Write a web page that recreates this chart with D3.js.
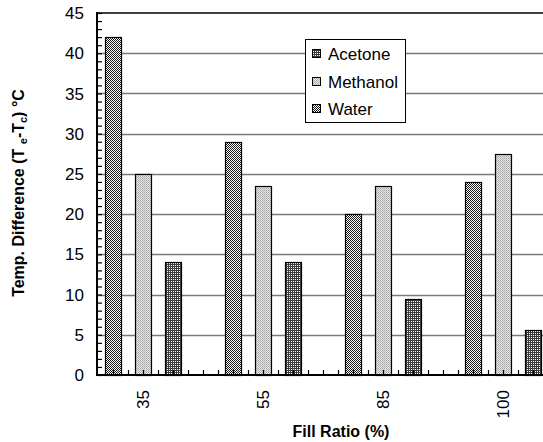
<!DOCTYPE html>
<html><head><meta charset="utf-8">
<script src="https://cdn.jsdelivr.net/npm/d3@7"></script>
<style>
body{margin:0;background:#fff}
svg{display:block}
text{font-family:"Liberation Sans",Arial,sans-serif;fill:#000}
</style>
</head><body>
<svg id="c" width="543" height="442"></svg>
<script>
// ---- data ----
const categories = ["35", "55", "85", "100"];
const seriesNames = ["Acetone", "Methanol", "Water"];
const acetone  = [42, 29, 20, 24];
const methanol = [25, 23.5, 23.5, 27.5];
const water    = [14, 14, 9.5, 5.6];
const yTickValues = [0, 5, 10, 15, 20, 25, 30, 35, 40, 45];
const xTitle = "Fill Ratio (%)";

const seriesValues = [acetone, methanol, water];
const barPatterns = ["pCheck", "pLight", "pGrid"];
const legendPatterns = ["pGrid", "pLight", "pCheck"];

const W = 543, H = 442;
const plot = {left: 97, top: 13, right: 543, bottom: 375};

const svg = d3.select("#c");
const defs = svg.append("defs");

function pattern(id, size, bg, cells) {
  const p = defs.append("pattern").attr("id", id).attr("patternUnits", "userSpaceOnUse")
    .attr("width", size).attr("height", size);
  p.append("rect").attr("width", size).attr("height", size).attr("fill", bg);
  cells.forEach(c => p.append("rect").attr("x", c[0]).attr("y", c[1])
    .attr("width", c[2] || 1).attr("height", c[3] || 1).attr("fill", c[4]));
}
pattern("pCheck", 2, "#ffffff", [[0,0,1,1,"#1a1a1a"],[1,1,1,1,"#1a1a1a"]]);
pattern("pLight", 2, "#e6e6e6", [[0,0,1,1,"#a6a6a6"],[1,1,1,1,"#b8b8b8"]]);
pattern("pGrid", 2, "#ffffff", [[0,0,2,1,"#3a3a3a"],[0,1,1,1,"#3a3a3a"]]);

const y = d3.scaleLinear().domain([0, 45]).range([plot.bottom, plot.top]);
const x = d3.scaleBand().domain(categories).range([82.5, 562.5]).padding(0);
const xs = d3.scaleBand().domain(seriesNames).range([-45, 45]).padding(0);
const barW = 16;

// gridlines
svg.append("g").selectAll("line").data(yTickValues.filter(v => v > 0 && v < 45)).join("line")
  .attr("x1", plot.left).attr("x2", W)
  .attr("y1", d => Math.round(y(d)) + 0.5).attr("y2", d => Math.round(y(d)) + 0.5)
  .attr("stroke", "#7a7a7a").attr("stroke-width", 1.5);
// top frame
svg.append("line").attr("x1", plot.left).attr("x2", W)
  .attr("y1", y(45)).attr("y2", y(45)).attr("stroke", "#000").attr("stroke-width", 1.5);

// bars
const bars = [];
categories.forEach((c, i) => seriesNames.forEach((s, j) => bars.push({c, s, j, v: seriesValues[j][i]})));
svg.append("g").selectAll("rect").data(bars).join("rect")
  .attr("x", d => Math.round(x(d.c) + x.bandwidth() / 2 + xs(d.s) + xs.bandwidth() / 2 - barW / 2) + 0.5)
  .attr("y", d => Math.round(y(d.v)) + 0.5)
  .attr("width", barW)
  .attr("height", d => Math.round(y(0)) - Math.round(y(d.v)))
  .attr("fill", d => `url(#${barPatterns[d.j]})`)
  .attr("stroke", "#000").attr("stroke-width", 1.2);

// y axis
const yAxis = d3.axisRight(y).tickValues(d3.range(0, 46, 1)).tickSize(5).tickFormat("");
const gy = svg.append("g").attr("transform", `translate(${plot.left},0)`).call(yAxis);
gy.select(".domain").remove();
gy.selectAll(".tick line").attr("stroke", "#000").attr("stroke-width", 1.2);
svg.append("g").selectAll("text").data(yTickValues).join("text")
  .attr("x", 84).attr("y", d => y(d)).attr("dy", "0.36em")
  .attr("text-anchor", "end").attr("font-size", 17).text(d => d);
svg.append("line").attr("x1", plot.left).attr("x2", plot.left)
  .attr("y1", plot.top - 1).attr("y2", plot.bottom + 1).attr("stroke", "#000").attr("stroke-width", 2);

// x axis minor ticks (every 1/8 of a category)
const xLin = d3.scaleLinear().domain([0, categories.length]).range(x.range());
const xMinor = d3.range(0, categories.length * 8 + 1).map(k => k / 8)
  .filter(t => xLin(t) > plot.left + 2 && xLin(t) < W);
svg.append("g").selectAll("line").data(xMinor).join("line")
  .attr("x1", d => Math.round(xLin(d)) + 0.5).attr("x2", d => Math.round(xLin(d)) + 0.5)
  .attr("y1", plot.bottom).attr("y2", plot.bottom - 5)
  .attr("stroke", "#000").attr("stroke-width", 1.2);
svg.append("line").attr("x1", plot.left - 1).attr("x2", W)
  .attr("y1", plot.bottom).attr("y2", plot.bottom).attr("stroke", "#000").attr("stroke-width", 2);

// x tick labels
svg.append("g").selectAll("text").data(categories).join("text")
  .attr("transform", d => `translate(${x(d) + x.bandwidth() / 2},390) rotate(-90)`)
  .attr("dy", "0.36em").attr("text-anchor", "end").attr("font-size", 17).text(d => d);

// axis titles
svg.append("text").attr("x", 341).attr("y", 437).attr("text-anchor", "middle")
  .attr("font-size", 16).attr("font-weight", "bold").text(xTitle);
const yt = svg.append("text").attr("transform", "translate(24,193) rotate(-90)")
  .attr("text-anchor", "middle").attr("font-size", 16).attr("font-weight", "bold");
yt.append("tspan").text("Temp. Difference (T ");
yt.append("tspan").attr("font-size", 11).attr("dy", 3).text("e");
yt.append("tspan").attr("dy", -3).text("-T");
yt.append("tspan").attr("font-size", 11).attr("dy", 3).text("c");
yt.append("tspan").attr("dy", -3).text(") °C");

// legend
const lg = svg.append("g");
lg.append("rect").attr("x", 305.5).attr("y", 39.5).attr("width", 100).attr("height", 83)
  .attr("fill", "#fff").attr("stroke", "#000").attr("stroke-width", 1);
const ly = d3.scalePoint().domain(seriesNames).range([54, 109]);
seriesNames.forEach((s, j) => {
  lg.append("rect").attr("x", 312.5).attr("y", Math.round(ly(s)) - 4.5).attr("width", 8).attr("height", 8)
    .attr("fill", `url(#${legendPatterns[j]})`).attr("stroke", "#000").attr("stroke-width", 1);
  lg.append("text").attr("x", 328).attr("y", ly(s)).attr("dy", "0.36em")
    .attr("font-size", 17).text(s);
});
</script>
</body></html>
